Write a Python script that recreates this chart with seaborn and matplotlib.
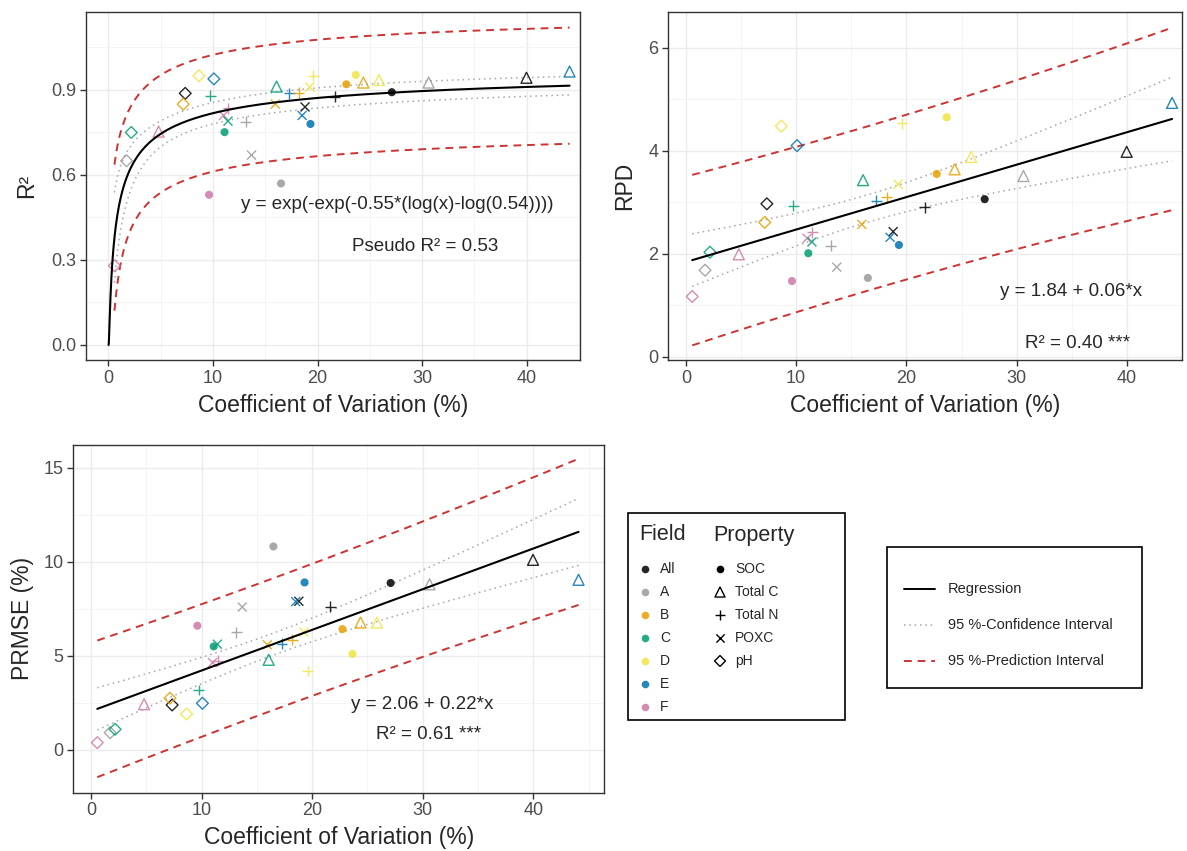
import numpy as np
import pandas as pd
import matplotlib
matplotlib.use("Agg")
import matplotlib.pyplot as plt
from matplotlib.patches import Rectangle
import seaborn as sns

# ---- data -------------------------------------------------------------
field = ["F", "A", "C", "F", "All", "B", "D", "E", "C", "F",
         "C", "F", "F", "C", "A", "A", "A", "C", "B", "E",
         "B", "All", "E", "E", "D", "D", "All", "D", "B", "B",
         "D", "All", "A", "All", "E"]
prop = ["pH", "pH", "pH", "Total C", "pH", "pH", "pH", "pH", "Total N", "SOC",
        "SOC", "POXC", "Total N", "POXC", "Total N", "POXC", "SOC", "Total C", "POXC", "Total N",
        "Total N", "POXC", "POXC", "SOC", "POXC", "Total N", "Total N", "SOC", "SOC", "Total C",
        "Total C", "SOC", "Total C", "Total C", "Total C"]
cv = [0.57, 1.73, 2.18, 4.80, 7.34, 7.14, 8.65, 10.08, 9.75, 9.62,
      11.10, 11.00, 11.45, 11.43, 13.13, 13.68, 16.50, 16.07, 15.95, 17.28,
      18.20, 18.80, 18.52, 19.32, 19.25, 19.60, 21.65, 23.65, 22.75, 24.38,
      25.87, 27.10, 30.62, 39.98, 44.10]
r2 = [0.28, 0.65, 0.75, 0.753, 0.888, 0.85, 0.95, 0.939, 0.88, 0.53,
      0.751, 0.81, 0.835, 0.79, 0.788, 0.67, 0.57, 0.912, 0.85, 0.888,
      0.89, 0.84, 0.81, 0.78, 0.91, 0.95, 0.876, 0.953, 0.92, 0.926,
      0.935, 0.892, 0.926, 0.943, 0.965]
rpd = [1.17, 1.68, 2.03, 1.99, 2.97, 2.61, 4.48, 4.10, 2.93, 1.47,
       2.01, 2.30, 2.42, 2.23, 2.16, 1.74, 1.53, 3.43, 2.57, 3.03,
       3.10, 2.43, 2.32, 2.17, 3.35, 4.53, 2.90, 4.65, 3.55, 3.64,
       3.88, 3.06, 3.51, 3.98, 4.93]
prmse = [0.39, 0.92, 1.10, 2.43, 2.39, 2.75, 1.91, 2.48, 3.19, 6.60,
         5.50, 4.64, 4.75, 5.62, 6.24, 7.59, 10.81, 4.79, 5.59, 5.64,
         5.85, 7.90, 7.88, 8.90, 6.26, 4.20, 7.62, 5.10, 6.42, 6.77,
         6.77, 8.87, 8.80, 10.10, 9.04]

field_order = ["All", "A", "B", "C", "D", "E", "F"]
field_colors = ["#000000", "#999999", "#E69F00", "#009E73", "#F0E442", "#0072B2", "#CC79A7"]
prop_order = ["SOC", "Total C", "Total N", "POXC", "pH"]

# fitted model coefficients
r2_b, r2_e = -0.55, 0.54          # y = exp(-exp(b*(log(x)-log(e))))
rpd_b0, rpd_b1 = 1.84, 0.063
prmse_b0, prmse_b1 = 2.06, 0.216
pseudo_r2 = 0.53
rpd_r2 = 0.40
prmse_r2 = 0.61

df = pd.DataFrame({"Field": field, "Property": prop, "CV": cv,
                   "R2": r2, "RPD": rpd, "PRMSE": prmse})

# ---- styling ----------------------------------------------------------
sns.set_theme(style="white")
plt.rcParams["font.family"] = ["Liberation Sans", "DejaVu Sans"]

W, H = 1187, 851
fig = plt.figure(figsize=(W / 100, H / 100), dpi=100)

palette = dict(zip(field_order, field_colors))
marker_map = {"SOC": "o", "Total C": "^", "Total N": "+", "POXC": "x", "pH": "D"}
size_map = {"SOC": 34, "Total C": 62, "Total N": 60, "POXC": 42, "pH": 36}
hollow = {"Total C", "pH"}

RED = "#CD3333"
GREY = "#A6A6A6"
T975 = 2.0345  # Student t quantile (0.975, 33 df)


def px_axes(x0, y0, x1, y1):
    return fig.add_axes([x0 / W, 1 - y1 / H, (x1 - x0) / W, (y1 - y0) / H])


def style_axes(ax, xlim, ylim, yticks, yminor, ylabel, labelpad_y):
    ax.set_xlim(*xlim)
    ax.set_ylim(*ylim)
    ax.set_xticks([0, 10, 20, 30, 40])
    ax.set_xticks([5, 15, 25, 35, 45], minor=True)
    ax.set_yticks(yticks)
    ax.set_yticks(yminor, minor=True)
    ax.grid(True, which="major", color="#EBEBEB", lw=1.0, zorder=0)
    ax.grid(True, which="minor", color="#F2F2F2", lw=0.6, zorder=0)
    ax.set_axisbelow(True)
    for sp in ax.spines.values():
        sp.set_color("#333333")
        sp.set_linewidth(1.0)
    ax.tick_params(which="major", length=4, width=1, color="#333333",
                   labelsize=13, labelcolor="#4D4D4D", pad=3,
                   bottom=True, left=True)
    ax.tick_params(which="minor", length=0)
    ax.set_xlabel("Coefficient of Variation (%)", fontsize=16.5, labelpad=5)
    ax.set_ylabel(ylabel, fontsize=16.5, labelpad=labelpad_y)


def scatter_points(ax, ycol):
    for p in prop_order:
        sub = df[df["Property"] == p]
        kws = dict(linewidth=0) if p == "SOC" else dict(linewidth=1.0)
        sns.scatterplot(data=sub, x="CV", y=ycol, hue="Field",
                        hue_order=field_order, palette=palette,
                        marker=marker_map[p], s=size_map[p], alpha=0.85,
                        legend=False, ax=ax, zorder=3, **kws)
        coll = ax.collections[-1]
        if p in hollow:
            fc = coll.get_facecolors()
            coll.set_edgecolors(fc)
            coll.set_facecolors("none")
            coll.set_linewidths(1.0)
    ax.set_xlabel("")
    ax.set_ylabel("")


def linear_bands(x, y, b0, b1, grid):
    n = len(x)
    resid = y - (b0 + b1 * x)
    s = np.sqrt(np.sum(resid ** 2) / (n - 2))
    xbar = x.mean()
    sxx = np.sum((x - xbar) ** 2)
    fit = b0 + b1 * grid
    ci = T975 * s * np.sqrt(1 / n + (grid - xbar) ** 2 / sxx)
    pi = T975 * s * np.sqrt(1 + 1 / n + (grid - xbar) ** 2 / sxx)
    return fit, ci, pi


def weib(x, b, e):
    return np.exp(-np.exp(b * (np.log(x) - np.log(e))))


def weib_grad(x, b, e):
    L = np.log(x) - np.log(e)
    g = np.exp(b * L)
    f = np.exp(-g)
    return np.column_stack([-f * g * L, f * g * b / e])


def draw_bands(ax, grid, fit, ci, pi):
    ax.plot(grid, fit + ci, color=GREY, lw=1.1, dashes=(1, 2.5), zorder=2)
    ax.plot(grid, fit - ci, color=GREY, lw=1.1, dashes=(1, 2.5), zorder=2)
    ax.plot(grid, fit + pi, color=RED, lw=1.4, dashes=(4, 3), zorder=2)
    ax.plot(grid, fit - pi, color=RED, lw=1.4, dashes=(4, 3), zorder=2)


x_arr = np.array(cv)
grid = np.linspace(x_arr.min(), x_arr.max(), 300)

# ---- panel 1: R2 -------------------------------------------------------
ax1 = px_axes(85.7, 12.3, 580, 360)
y1 = np.array(r2)
n = len(x_arr)
res1 = y1 - weib(x_arr, r2_b, r2_e)
s1 = np.sqrt(np.sum(res1 ** 2) / (n - 2))
J = weib_grad(x_arr, r2_b, r2_e)
cov = s1 ** 2 * np.linalg.inv(J.T @ J)
G = weib_grad(grid, r2_b, r2_e)
se = np.sqrt(np.sum((G @ cov) * G, axis=1))
fit1 = weib(grid, r2_b, r2_e)
draw_bands(ax1, grid, fit1, T975 * se, T975 * np.sqrt(s1 ** 2 + se ** 2))
curve_x = np.concatenate([np.geomspace(1e-3, 1, 120), np.linspace(1, x_arr.max(), 300)])
ax1.plot(curve_x, weib(curve_x, r2_b, r2_e), color="black", lw=1.5, zorder=4)
scatter_points(ax1, "R2")
style_axes(ax1, (-2.18, 45.1), (-0.053, 1.174), [0, 0.3, 0.6, 0.9],
           [0.15, 0.45, 0.75, 1.05], "R²", 9)
ax1.yaxis.set_major_formatter(matplotlib.ticker.FormatStrFormatter("%.1f"))
ax1.text(27.6, 0.494, f"y = exp(-exp({r2_b:.2f}*(log(x)-log({r2_e:.2f}))))",
         ha="center", va="center", fontsize=13.5)
ax1.text(30.3, 0.347, f"Pseudo R² = {pseudo_r2:.2f}", ha="center", va="center", fontsize=13.5)

# ---- panel 2: RPD ------------------------------------------------------
ax2 = px_axes(668.3, 12.3, 1182, 360)
fit2, ci2, pi2 = linear_bands(x_arr, np.array(rpd), rpd_b0, rpd_b1, grid)
draw_bands(ax2, grid, fit2, ci2, pi2)
ax2.plot(grid, fit2, color="black", lw=1.5, zorder=4)
scatter_points(ax2, "RPD")
style_axes(ax2, (-1.6, 44.75), (-0.064, 6.69), [0, 2, 4, 6], [1, 3, 5], "RPD", 9)
ax2.text(34.9, 1.26, f"y = {rpd_b0:.2f} + {rpd_b1:.2f}*x", ha="center", va="center", fontsize=13.5)
ax2.text(35.5, 0.26, f"R² = {rpd_r2:.2f} ***", ha="center", va="center", fontsize=13.5)

# ---- panel 3: PRMSE ----------------------------------------------------
ax3 = px_axes(73.3, 445, 604, 792.7)
fit3, ci3, pi3 = linear_bands(x_arr, np.array(prmse), prmse_b0, prmse_b1, grid)
draw_bands(ax3, grid, fit3, ci3, pi3)
ax3.plot(grid, fit3, color="black", lw=1.5, zorder=4)
scatter_points(ax3, "PRMSE")
style_axes(ax3, (-1.6, 46.4), (-2.27, 16.2), [0, 5, 10, 15], [2.5, 7.5, 12.5],
           "PRMSE (%)", 7)
ax3.text(30.0, 2.39, f"y = {prmse_b0:.2f} + {prmse_b1:.2f}*x", ha="center", va="center", fontsize=13.5)
ax3.text(30.5, 0.80, f"R² = {prmse_r2:.2f} ***", ha="center", va="center", fontsize=13.5)

# ---- legend: Field / Property -----------------------------------------
lx0, ly0, lx1, ly1 = 627, 512, 845, 720
lg = px_axes(lx0, ly0, lx1, ly1)
lg.set_xlim(lx0, lx1)
lg.set_ylim(ly1, ly0)
lg.axis("off")
lg.add_patch(Rectangle((lx0 + 0.5, ly0 + 0.5), lx1 - lx0 - 1, ly1 - ly0 - 1,
                       fill=False, edgecolor="black", lw=1.2, clip_on=False))
lg.text(639, 535, "Field", fontsize=15.5, va="center", ha="left")
lg.text(713, 535, "Property", fontsize=15.5, va="center", ha="left")
row_y = [569, 592, 615, 638, 661, 684, 707]
for f_name, col, yy in zip(field_order, field_colors, row_y):
    lg.scatter([645], [yy], s=30, color=col, alpha=0.85, linewidths=0)
    lg.text(660, yy, f_name, fontsize=10, va="center", ha="left")
for p, yy in zip(prop_order, row_y):
    if p in hollow:
        lg.scatter([720], [yy], s=size_map[p] * 0.85, marker=marker_map[p],
                   facecolors="none", edgecolors="black", linewidths=1.0)
    elif p == "SOC":
        lg.scatter([720], [yy], s=30, marker="o", color="black", linewidths=0)
    else:
        lg.scatter([720], [yy], s=size_map[p] * 0.85, marker=marker_map[p],
                   color="black", linewidths=1.0)
    lg.text(735, yy, p, fontsize=10, va="center", ha="left")

# ---- legend: lines -----------------------------------------------------
mx0, my0, mx1, my1 = 886, 546, 1142, 688
lm = px_axes(mx0, my0, mx1, my1)
lm.set_xlim(mx0, mx1)
lm.set_ylim(my1, my0)
lm.axis("off")
lm.add_patch(Rectangle((mx0 + 0.5, my0 + 0.5), mx1 - mx0 - 1, my1 - my0 - 1,
                       fill=False, edgecolor="black", lw=1.2, clip_on=False))
line_specs = [("Regression", dict(color="black", lw=1.4)),
              ("95 %-Confidence Interval", dict(color=GREY, lw=1.1, dashes=(1, 2.5))),
              ("95 %-Prediction Interval", dict(color=RED, lw=1.4, dashes=(4, 3)))]
for (lab, kw), yy in zip(line_specs, [589, 625, 661]):
    lm.plot([904, 935], [yy, yy], **kw)
    lm.text(948, yy, lab, fontsize=10.5, va="center", ha="left")

fig.savefig("out.png", dpi=100)
